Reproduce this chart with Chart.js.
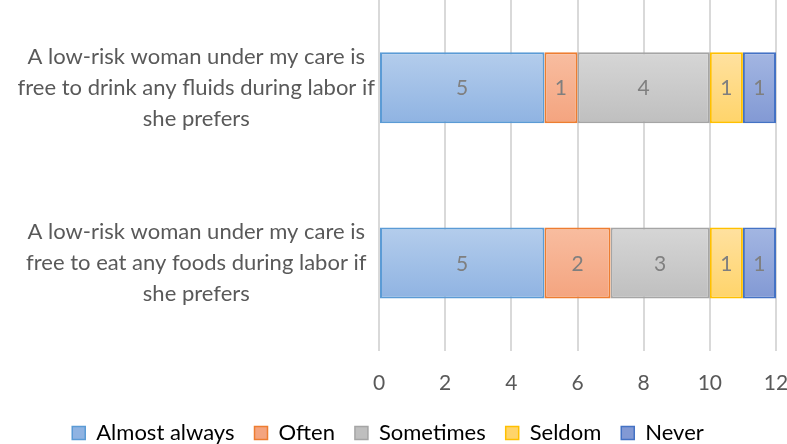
<!DOCTYPE html>
<html>
<head>
<meta charset="utf-8">
<script src="https://cdn.jsdelivr.net/npm/chart.js@4"></script>
<style>
  body { margin: 0; background: #fff; }
  #wrap { width: 787px; height: 444px; }
</style>
</head>
<body>
<div id="wrap"><canvas id="chart"></canvas></div>
<script>
const categories = [
  ['A low-risk woman under my care is', 'free to drink any fluids during labor if', 'she prefers'],
  ['A low-risk woman under my care is', 'free to eat any foods during labor if', 'she prefers']
];
const seriesNames = ['Almost always', 'Often', 'Sometimes', 'Seldom', 'Never'];
const almostAlways = [5, 5];
const often = [1, 2];
const sometimes = [4, 3];
const seldom = [1, 1];
const never = [1, 1];
const xTicks = [0, 2, 4, 6, 8, 10, 12];

// fill top, fill bottom, border
const palette = [
  ['#b4cdec', '#8fb3e2', '#5b9bd5'],
  ['#f8bda0', '#f4a47f', '#ed7d31'],
  ['#d6d6d6', '#bfbfbf', '#a5a5a5'],
  ['#ffe1a0', '#ffd46a', '#ffc000'],
  ['#a3b6e2', '#8299d4', '#4472c4']
];

const textColor = '#595959';
const fontFamily = 'Lato, "Open Sans", sans-serif';

function barGradient(idx) {
  return ctx => {
    const chart = ctx.chart;
    const yScale = chart.scales.y;
    if (!chart.chartArea || !yScale || ctx.dataIndex === undefined) return palette[idx][1];
    const c = yScale.getPixelForValue(ctx.dataIndex);
    const half = yScale.getPixelForValue(1) - yScale.getPixelForValue(0);
    const h = Math.abs(half) * 0.405 / 2;
    const g = chart.ctx.createLinearGradient(0, c - h, 0, c + h);
    g.addColorStop(0, palette[idx][0]);
    g.addColorStop(1, palette[idx][1]);
    return g;
  };
}

const values = [almostAlways, often, sometimes, seldom, never];

const valueLabels = {
  id: 'valueLabels',
  afterDatasetsDraw(chart) {
    const ctx = chart.ctx;
    ctx.save();
    ctx.font = '21px ' + fontFamily;
    ctx.fillStyle = '#7f7f7f';
    ctx.textAlign = 'center';
    ctx.textBaseline = 'middle';
    chart.data.datasets.forEach((ds, i) => {
      chart.getDatasetMeta(i).data.forEach((bar, j) => {
        const p = bar.getCenterPoint();
        ctx.fillText(String(ds.data[j]), p.x, p.y + 1);
      });
    });
    ctx.restore();
  }
};

new Chart(document.getElementById('chart'), {
  type: 'bar',
  data: {
    labels: categories,
    datasets: seriesNames.map((name, i) => ({
      label: name,
      data: values[i],
      backgroundColor: barGradient(i),
      borderColor: palette[i][2],
      borderWidth: 2,
      borderSkipped: false,
      categoryPercentage: 1,
      barPercentage: 0.405
    }))
  },
  plugins: [valueLabels],
  options: {
    indexAxis: 'y',
    responsive: true,
    maintainAspectRatio: false,
    animation: false,
    layout: { padding: { top: 0, right: 11, left: 0, bottom: -10 } },
    plugins: {
      tooltip: { enabled: false },
      legend: {
        position: 'bottom',
        labels: {
          color: textColor,
          font: { size: 22, family: fontFamily },
          boxWidth: 13,
          boxHeight: 13,
          padding: 20,
          generateLabels: chart => seriesNames.map((name, i) => ({
            text: name,
            fillStyle: palette[i][1],
            strokeStyle: palette[i][2],
            lineWidth: 1.5,
            datasetIndex: i
          }))
        }
      }
    },
    scales: {
      x: {
        stacked: true,
        min: 0,
        max: 12,
        afterBuildTicks: axis => { axis.ticks = xTicks.map(v => ({ value: v })); },
        afterFit: axis => {
          axis.height = axis.height - 14;
          axis.paddingLeft = 0;
          axis.paddingRight = 0;
        },
        grid: { color: '#d9d9d9', lineWidth: 2, drawTicks: false },
        border: { display: false },
        ticks: {
          color: textColor,
          font: { size: 21, family: fontFamily },
          padding: 20
        }
      },
      y: {
        stacked: true,
        grid: { display: false, drawTicks: false, tickLength: 0 },
        border: { display: false },
        afterFit: axis => {
          axis.width = 379;
          axis.paddingTop = 0;
          axis.paddingBottom = 0;
        },
        ticks: {
          color: textColor,
          font: { size: 22, family: fontFamily, lineHeight: 1.4 },
          crossAlign: 'center',
          padding: 4
        }
      }
    }
  }
});
</script>
</body>
</html>
